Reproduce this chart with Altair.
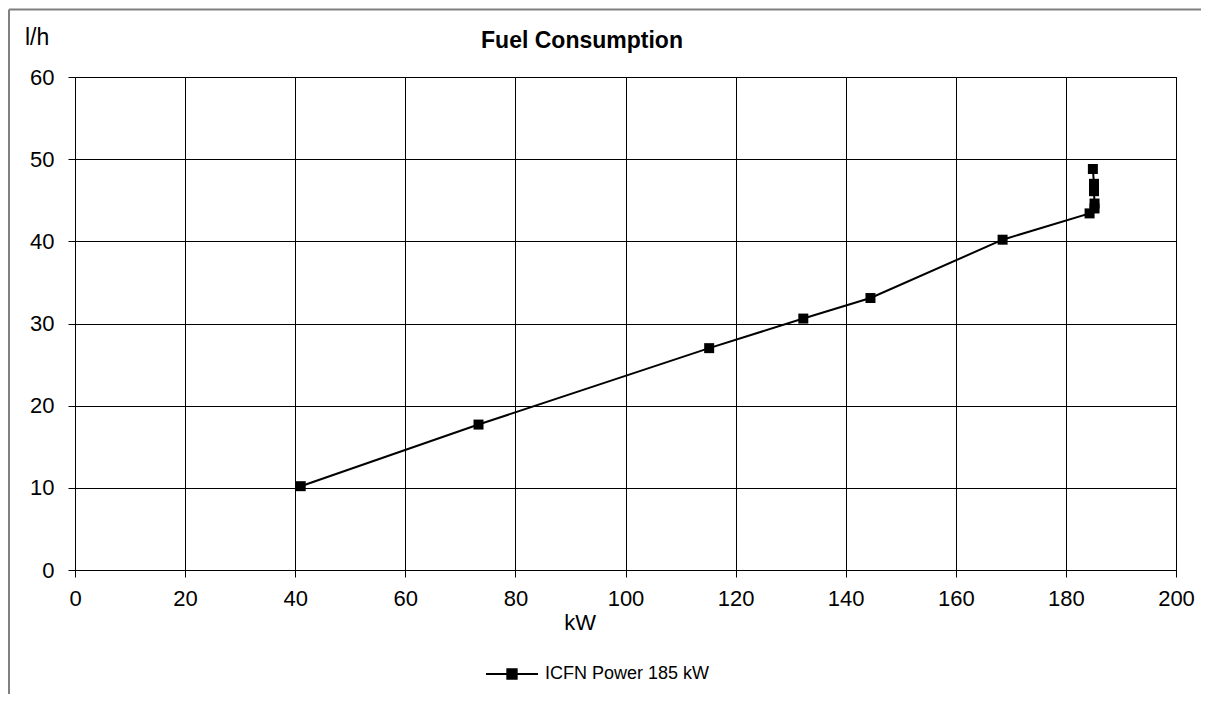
import altair as alt
import pandas as pd

series_name = "ICFN Power 185 kW"
power_kw = [41.0, 73.3, 115.2, 132.3, 144.5, 168.5, 184.3, 185.2, 185.2, 185.1, 185.1, 184.9]
fuel_lh = [10.2, 17.7, 27.0, 30.6, 33.1, 40.2, 43.4, 44.0, 44.6, 46.1, 47.0, 48.8]
x_ticks = [0, 20, 40, 60, 80, 100, 120, 140, 160, 180, 200]
y_ticks = [0, 10, 20, 30, 40, 50, 60]

title_text = "Fuel Consumption"
x_title = "kW"
y_title = "l/h"

df = pd.DataFrame({
    "kW": power_kw,
    "lh": fuel_lh,
    "order": list(range(len(power_kw))),
    "series": [series_name] * len(power_kw),
})

FONT = "Liberation Sans"
W, H = 1101, 493

xs = alt.X("kW:Q", scale=alt.Scale(domain=[0, 200], nice=False, zero=False),
           axis=alt.Axis(values=x_ticks, title=None, grid=True, gridColor="black",
                         gridOpacity=1, gridWidth=1, domainColor="black",
                         tickColor="black", tickSize=7, labelPadding=11,
                         labelFontSize=22, labelFont=FONT, labelColor="black",
                         labelFlush=False))
ys = alt.Y("lh:Q", scale=alt.Scale(domain=[0, 60], nice=False),
           axis=alt.Axis(values=y_ticks, title=None, grid=True, gridColor="black",
                         gridOpacity=1, gridWidth=1, domainColor="black",
                         tickColor="black", tickSize=7, labelPadding=14,
                         labelFontSize=22, labelFont=FONT, labelColor="black"))

legend = alt.Legend(title=None, orient="none", legendX=410, legendY=570,
                    symbolType="M-1,0H1M-0.18,-0.18H0.18V0.18H-0.18Z",
                    symbolSize=2704, symbolFillColor="black",
                    symbolStrokeColor="black", symbolStrokeWidth=2,
                    symbolOpacity=1, labelFont=FONT, labelFontSize=18,
                    labelColor="black", labelOffset=6, labelLimit=500, padding=0)
color = alt.Color("series:N", scale=alt.Scale(range=["black"]), legend=legend)

base = alt.Chart(df)
line = base.mark_line(strokeWidth=2).encode(
    x=xs, y=ys, order="order:Q", color=color)
points = base.mark_point(shape="square", filled=True, size=100, opacity=1).encode(
    x=xs, y=ys, color=color)

def txt(t, x, y, size, weight="normal", align="left"):
    return alt.Chart(pd.DataFrame({"t": [t]})).mark_text(
        font=FONT, fontSize=size, fontWeight=weight, align=align,
        baseline="alphabetic", color="black").encode(
        text="t:N", x=alt.value(x), y=alt.value(y))

title_mark = txt(title_text, 507, -29, 23, "bold", "center")
ytitle_mark = txt(y_title, -50, -32, 23)
xtitle_mark = txt(x_title, 505, 553, 22, "normal", "center")

one = alt.Chart(pd.DataFrame({"a": [0]}))
border_left = one.mark_rule(color="#808080", strokeWidth=2).encode(
    x=alt.value(-66), y=alt.value(-67.5), y2=alt.value(700))
border_top = one.mark_rule(color="#808080", strokeWidth=2).encode(
    x=alt.value(-66), x2=alt.value(1130), y=alt.value(-67.5))

chart = alt.layer(border_left, border_top, line, points, title_mark, ytitle_mark, xtitle_mark).properties(
    width=W, height=H,
    autosize=alt.AutoSizeParams(type="none"),
    padding={"left": 67, "top": 69, "right": 25, "bottom": 124},
    background="white",
).configure_view(stroke="black", strokeWidth=1)

chart.save("out.html", embed_options={"renderer": "svg", "actions": False})
